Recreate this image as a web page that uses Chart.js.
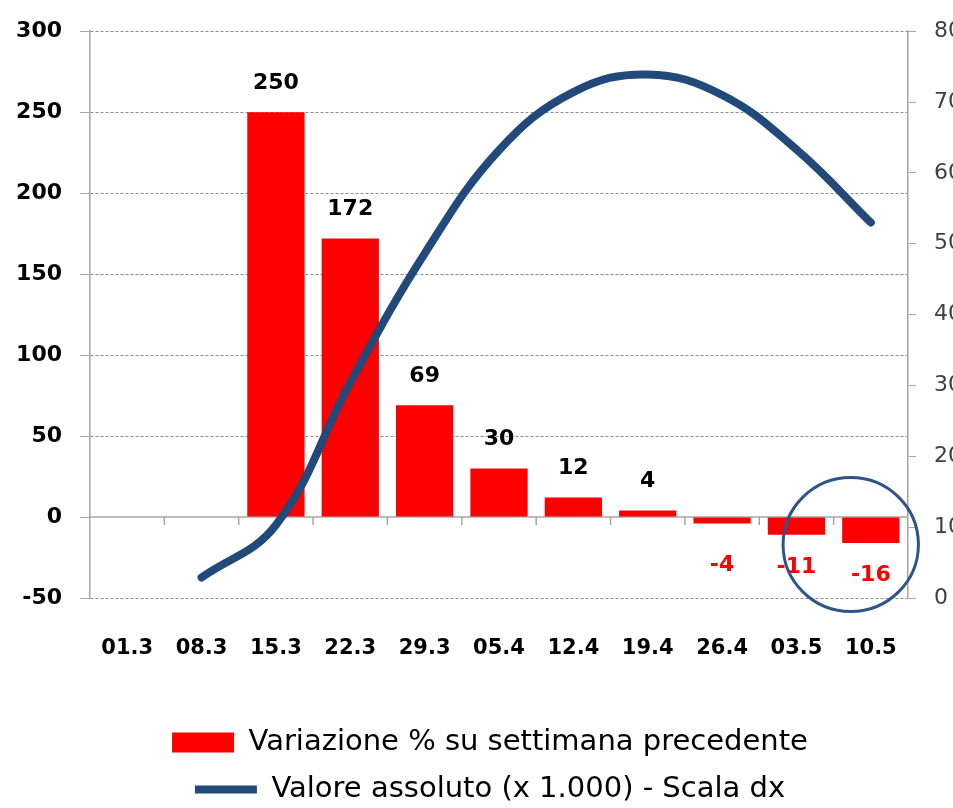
<!DOCTYPE html>
<html>
<head>
<meta charset="utf-8">
<script src="https://cdn.jsdelivr.net/npm/chart.js@4/dist/chart.umd.min.js"></script>
<style>
  html, body { margin: 0; padding: 0; background: #fff; overflow: hidden; }
  #wrap { width: 953px; height: 808px; overflow: hidden; }
  #box { width: 980px; height: 808px; }
</style>
</head>
<body>
<div id="wrap"><div id="box"><canvas id="grafico"></canvas></div></div>
<script>
// dati
const settimane = ['01.3', '08.3', '15.3', '22.3', '29.3', '05.4', '12.4', '19.4', '26.4', '03.5', '10.5'];
const variazione = [null, null, 250, 172, 69, 30, 12, 4, -4, -11, -16];
const valoreAssoluto = [null, 2.9, 10.3, 30.4, 48.6, 63.2, 71.4, 73.9, 71, 63.3, 53];

const fontBold = { family: 'DejaVu Sans', size: 22, weight: 'bold' };

// etichette sopra/sotto le barre
const etichette = {
  id: 'etichette',
  afterDatasetsDraw(chart) {
    const ctx = chart.ctx;
    const meta = chart.getDatasetMeta(0);
    const y0 = chart.scales.y.getPixelForValue(0);
    ctx.save();
    ctx.font = 'bold 22px "DejaVu Sans"';
    ctx.textAlign = 'center';
    ctx.textBaseline = 'middle';
    meta.data.forEach((bar, i) => {
      const v = variazione[i];
      if (v === null) return;
      if (v >= 0) {
        ctx.fillStyle = '#000';
        ctx.fillText(v, bar.x, bar.y - 29);
      } else {
        ctx.fillStyle = '#ff0000';
        ctx.fillText(v, bar.x, Math.max(bar.y + 32, y0 + 48));
      }
    });
    ctx.restore();
  }
};

// asse delle categorie sullo zero + cerchio
const assiExtra = {
  id: 'assiExtra',
  beforeDatasetsDraw(chart) {
    const { ctx, chartArea, scales } = chart;
    const y0 = scales.y.getPixelForValue(0);
    ctx.save();
    ctx.strokeStyle = '#a6a6a6';
    ctx.lineWidth = 1.5;
    ctx.beginPath();
    ctx.moveTo(chartArea.left, y0);
    ctx.lineTo(chartArea.right, y0);
    for (let i = 1; i < settimane.length; i++) {
      const x = scales.x.getPixelForValue(i - 0.5);
      ctx.moveTo(x, y0);
      ctx.lineTo(x, y0 + 8);
    }
    ctx.stroke();
    ctx.restore();
  },
  afterDraw(chart) {
    const { ctx, scales } = chart;
    const cx = scales.x.getPixelForValue(9.73);
    const cy = scales.y.getPixelForValue(-17);
    const rx = scales.x.getPixelForValue(1) - scales.x.getPixelForValue(0.09);
    ctx.save();
    ctx.strokeStyle = '#2f5487';
    ctx.lineWidth = 3;
    ctx.beginPath();
    ctx.ellipse(cx, cy, rx, 67, 0, 0, Math.PI * 2);
    ctx.stroke();
    ctx.restore();
  }
};

new Chart(document.getElementById('grafico'), {
  data: {
    labels: settimane,
    datasets: [{
      type: 'bar',
      label: 'Variazione % su settimana precedente',
      data: variazione,
      backgroundColor: '#ff0000',
      barPercentage: 0.77,
      categoryPercentage: 1,
      yAxisID: 'y',
      order: 2,
      pointStyle: 'rect'
    }, {
      type: 'line',
      label: 'Valore assoluto (x 1.000) - Scala dx',
      data: valoreAssoluto,
      borderColor: '#21497a',
      backgroundColor: '#21497a',
      borderWidth: 8,
      borderCapStyle: 'round',
      tension: 0.4,
      pointRadius: 0,
      yAxisID: 'y1',
      order: 1,
      pointStyle: 'line'
    }]
  },
  options: {
    responsive: true,
    maintainAspectRatio: false,
    animation: false,
    layout: { padding: { top: 26, left: 0, right: 0, bottom: -6 } },
    plugins: {
      tooltip: { enabled: false },
      legend: {
        position: 'bottom',
        labels: {
          usePointStyle: true,
          pointStyleWidth: 62,
          boxHeight: 20,
          padding: 18,
          color: '#000',
          font: { family: 'DejaVu Sans', size: 29 },
          sort: (a, b) => a.datasetIndex - b.datasetIndex
        }
      }
    },
    scales: {
      x: {
        grid: { display: false },
        border: { display: false },
        ticks: { color: '#000', font: { family: 'DejaVu Sans', size: 21, weight: 'bold' }, padding: 30, maxRotation: 0 },
        afterFit(s) { s.height = 112; }
      },
      y: {
        position: 'left',
        min: -50,
        max: 300,
        ticks: { stepSize: 50, color: '#000', font: fontBold, padding: 18 },
        grid: {
          color: ctx => ctx.tick && ctx.tick.value === 0 ? 'rgba(0,0,0,0)' : '#8c8c8c',
          tickColor: '#a6a6a6',
          tickLength: 10
        },
        border: { color: '#a6a6a6', width: 1.5, dash: [3, 2] },
        afterFit(s) { s.width = 90; }
      },
      y1: {
        position: 'right',
        min: 0,
        max: 80,
        ticks: { stepSize: 10, color: '#404040', font: { family: 'DejaVu Sans', size: 22 }, padding: 18 },
        grid: { drawOnChartArea: false, color: '#a6a6a6', tickLength: 8 },
        border: { color: '#a6a6a6', width: 1.5 },
        afterFit(s) { s.width = 72; }
      }
    }
  },
  plugins: [etichette, assiExtra]
});
</script>
</body>
</html>
